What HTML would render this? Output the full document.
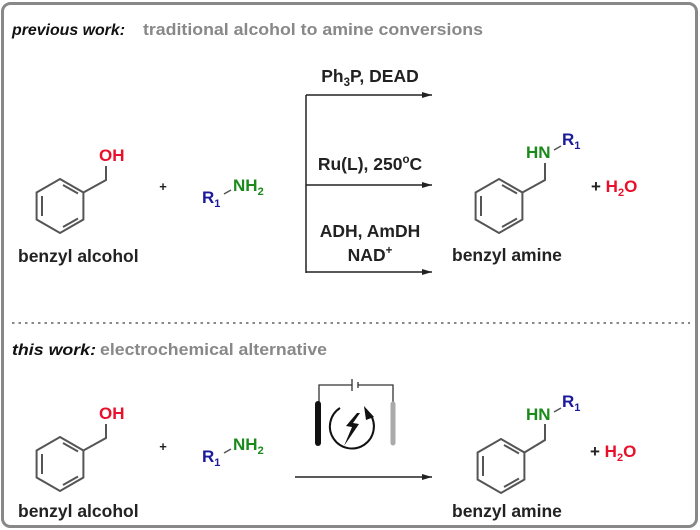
<!DOCTYPE html>
<html><head><meta charset="utf-8"><style>
html,body{margin:0;padding:0;background:#fff}
svg{display:block}
text{font-family:"Liberation Sans",Arial,sans-serif;font-weight:bold}
</style></head><body>
<svg width="700" height="530" viewBox="0 0 700 530" xmlns="http://www.w3.org/2000/svg">
<defs>
<marker id="ah" markerWidth="10" markerHeight="6" refX="10" refY="3" orient="auto" markerUnits="userSpaceOnUse">
<path d="M0,0 L10,3 L0,6 Z" fill="#222"/></marker>
<g id="ring" fill="none" stroke="#555" stroke-width="2">
<polygon points="0,-27 23.4,-13.5 23.4,13.5 0,27 -23.4,13.5 -23.4,-13.5"/>
<line x1="-18" y1="-10" x2="-18" y2="10"/>
<line x1="3" y1="-21" x2="18" y2="-12.5"/>
<line x1="3" y1="21" x2="18" y2="12.5"/>
</g>
</defs>
<rect x="2.5" y="3.5" width="694" height="523" rx="8" fill="#fff" stroke="#888" stroke-width="3"/>
<line x1="12" y1="323" x2="690" y2="323" stroke="#888" stroke-width="2" stroke-dasharray="2.5,4"/>

<text x="12" y="35" font-size="16" font-style="italic" fill="#111" textLength="113" lengthAdjust="spacingAndGlyphs">previous work:</text>
<text x="143" y="35" font-size="16.5" fill="#888" textLength="340" lengthAdjust="spacingAndGlyphs">traditional alcohol to amine conversions</text>
<text x="12" y="355" font-size="16" font-style="italic" fill="#111" textLength="84" lengthAdjust="spacingAndGlyphs">this work:</text>
<text x="100" y="355" font-size="16.5" fill="#888" textLength="227" lengthAdjust="spacingAndGlyphs">electrochemical alternative</text>

<!-- top left -->
<use href="#ring" x="60" y="206"/>
<polyline points="83.4,192.5 106,180 106,166" fill="none" stroke="#555" stroke-width="2"/>
<text x="99" y="161" font-size="17" fill="#e8102a">OH</text>
<text x="18" y="262" font-size="17.5" fill="#222">benzyl alcohol</text>
<text x="163" y="191" font-size="13" fill="#222" text-anchor="middle">+</text>
<text x="202" y="203" font-size="17" fill="#1a1a9a">R<tspan font-size="11" dy="4">1</tspan></text>
<line x1="224" y1="194" x2="231" y2="190" stroke="#555" stroke-width="1.5"/>
<text x="233" y="191" font-size="17" fill="#1a8a1a">NH<tspan font-size="11" dy="4">2</tspan></text>

<!-- arrows top -->
<line x1="306" y1="95" x2="306" y2="273" stroke="#222" stroke-width="1.5"/>
<line x1="306" y1="95" x2="432" y2="95" stroke="#222" stroke-width="1.5" marker-end="url(#ah)"/>
<line x1="306" y1="185" x2="432" y2="185" stroke="#222" stroke-width="1.5" marker-end="url(#ah)"/>
<line x1="306" y1="272" x2="432" y2="272" stroke="#222" stroke-width="1.5" marker-end="url(#ah)"/>
<text x="370" y="82" font-size="17.5" fill="#222" text-anchor="middle">Ph<tspan font-size="11.5" dy="4">3</tspan><tspan dy="-4">P, DEAD</tspan></text>
<text x="370" y="170" font-size="17.5" fill="#222" text-anchor="middle">Ru(L), 250<tspan font-size="11.5" dy="-7">o</tspan><tspan dy="7">C</tspan></text>
<text x="370" y="237" font-size="17.5" fill="#222" text-anchor="middle">ADH, AmDH</text>
<text x="370" y="261" font-size="17.5" fill="#222" text-anchor="middle">NAD<tspan font-size="11.5" dy="-7">+</tspan></text>

<!-- top product -->
<use href="#ring" x="499" y="206"/>
<polyline points="522.4,192.5 545,180 545,163" fill="none" stroke="#555" stroke-width="2"/>
<text x="526" y="158" font-size="17" fill="#1a8a1a">HN</text>
<line x1="554" y1="150" x2="561" y2="146" stroke="#555" stroke-width="1.5"/>
<text x="562" y="145" font-size="17" fill="#1a1a9a">R<tspan font-size="11" dy="4">1</tspan></text>
<text x="591" y="192" font-size="17" fill="#222">+ <tspan fill="#e8102a">H<tspan font-size="11" dy="4">2</tspan><tspan dy="-4">O</tspan></tspan></text>
<text x="452" y="261" font-size="17.5" fill="#222">benzyl amine</text>

<!-- bottom left -->
<use href="#ring" x="60" y="464"/>
<polyline points="83.4,450.5 106,438 106,424" fill="none" stroke="#555" stroke-width="2"/>
<text x="99" y="419" font-size="17" fill="#e8102a">OH</text>
<text x="18" y="517" font-size="17.5" fill="#222">benzyl alcohol</text>
<text x="163" y="451" font-size="13" fill="#222" text-anchor="middle">+</text>
<text x="202" y="462" font-size="17" fill="#1a1a9a">R<tspan font-size="11" dy="4">1</tspan></text>
<line x1="224" y1="453" x2="231" y2="449" stroke="#555" stroke-width="1.5"/>
<text x="233" y="450" font-size="17" fill="#1a8a1a">NH<tspan font-size="11" dy="4">2</tspan></text>

<!-- electrochem -->
<line x1="295" y1="477" x2="432" y2="477" stroke="#222" stroke-width="1.5" marker-end="url(#ah)"/>
<polyline points="319,404 319,385 352,385" fill="none" stroke="#333" stroke-width="1.3"/>
<polyline points="358,385 393,385 393,404" fill="none" stroke="#333" stroke-width="1.3"/>
<line x1="352" y1="379" x2="352" y2="391" stroke="#333" stroke-width="1.3"/>
<line x1="358" y1="382" x2="358" y2="388" stroke="#333" stroke-width="1.3"/>
<line x1="318" y1="404" x2="318" y2="443" stroke="#111" stroke-width="6" stroke-linecap="round"/>
<line x1="393" y1="404" x2="393" y2="443" stroke="#aaa" stroke-width="5" stroke-linecap="round"/>
<path d="M340,408 A22,22 0 1 0 370,414" fill="none" stroke="#111" stroke-width="2"/>
<path d="M364,406 L374,417 L366,420 Z" fill="#111"/>
<path d="M357,413 L346,426 L352,427 L344,446 L359,424 L353,423 L360,413 Z" fill="#111"/>

<!-- bottom product -->
<use href="#ring" x="501" y="466"/>
<polyline points="524.4,452.5 545,440 545,424" fill="none" stroke="#555" stroke-width="2"/>
<text x="526" y="420" font-size="17" fill="#1a8a1a">HN</text>
<line x1="554" y1="412" x2="561" y2="408" stroke="#555" stroke-width="1.5"/>
<text x="562" y="407" font-size="17" fill="#1a1a9a">R<tspan font-size="11" dy="4">1</tspan></text>
<text x="590" y="457" font-size="17" fill="#222">+ <tspan fill="#e8102a">H<tspan font-size="11" dy="4">2</tspan><tspan dy="-4">O</tspan></tspan></text>
<text x="452" y="517" font-size="17.5" fill="#222">benzyl amine</text>
</svg>
</body></html>
